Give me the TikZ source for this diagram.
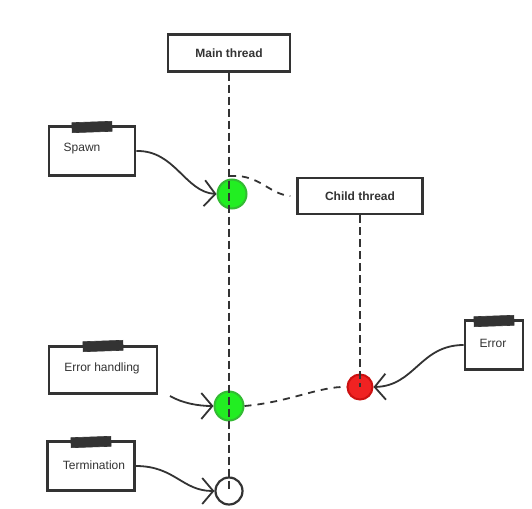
\documentclass[tikz,border=0pt]{standalone}
\usepackage{fontspec}
\setmainfont{Liberation Sans}
\usetikzlibrary{arrows.meta}
\definecolor{ink}{HTML}{333333}
\definecolor{gfill}{HTML}{22EE22}
\definecolor{gline}{HTML}{33BB33}
\definecolor{rfill}{HTML}{F02222}
\definecolor{rline}{HTML}{CC1111}
\tikzset{
  threadbox/.style={draw=ink, line width=2.4pt, fill=white, font=\bfseries\fontsize{12}{14}\selectfont, text=ink, inner sep=0pt},
  notebox/.style={draw=ink, line width=2.6pt, fill=white, font=\fontsize{12}{14}\selectfont, text=ink, inner sep=0pt},
  tapebar/.style={fill=ink, draw=ink, line width=0.6pt, minimum width=40pt, minimum height=10pt, inner sep=0pt},
  notetext/.style={font=\fontsize{12}{14}\selectfont, text=ink, inner sep=0pt},
  life/.style={draw=ink, line width=1.8pt, dash pattern=on 8pt off 4pt},
  msg/.style={draw=ink, line width=1.8pt, dash pattern=on 7pt off 6pt},
  gdot/.style={circle, fill=gfill, draw=gline, line width=2pt, minimum size=29pt, inner sep=0pt},
  rdot/.style={circle, fill=rfill, draw=rline, line width=2pt, minimum size=25pt, inner sep=0pt},
  enddot/.style={circle, fill=white, draw=ink, line width=2.2pt, minimum size=27pt, inner sep=0pt},
  notearrow/.style={draw=ink, line width=1.8pt, -{Straight Barb[length=11pt,width=26pt,line width=1.8pt]}},
}
\begin{document}
\begin{tikzpicture}[x=1pt,y=-1pt]
\useasboundingbox (0,0) rectangle (532,508);
% thread boxes
\node[threadbox, minimum width=122pt, minimum height=37pt] (main) at (229,53) {Main thread};
\node[threadbox, minimum width=125pt, minimum height=36pt] (child) at (360,196) {Child thread};
% circles
\node[gdot] (spawn) at (232,194) {};
\node[gdot] (eh) at (229,406) {};
\node[rdot] (err) at (360,387) {};
\node[enddot] (term) at (229,491) {};
% lifelines
\draw[life] (main.south) -- (term.center);
\draw[life] (child.south) -- (err.center);
% messages
\coordinate (sp0) at (229,176);
\draw[msg] (sp0) -- (238,176) .. controls (262,178) and (270,194) .. ([xshift=-6pt]child.west);
\draw[msg] (eh.east) .. controls (290,402) and (320,386) .. (err.west);
% notes
\node[notebox, minimum width=86pt, minimum height=49pt] (nspawn) at (92,151) {};
\node[notetext] (lspawn) at (82,149) {Spawn};
\node[tapebar, rotate=2] (tspawn) at (92,127) {};
\node[notebox, minimum width=108pt, minimum height=47pt] (neh) at (103,370) {};
\node[notetext] (leh) at (102,368) {Error handling};
\node[tapebar, rotate=2] (teh) at (103,346) {};
\node[notebox, minimum width=58pt, minimum height=49pt] (nerr) at (494,345) {};
\node[notetext] (lerr) at (493,343) {Error};
\node[tapebar, rotate=2] (terr) at (494,321) {};
\node[notebox, minimum width=87pt, minimum height=49pt] (nterm) at (91,466) {};
\node[notetext] (lterm) at (94,465) {Termination};
\node[tapebar, rotate=2] (tterm) at (91,442) {};
% note arrows
\draw[notearrow] (nspawn.east) .. controls (175,150) and (185,192) .. (spawn.west);
\coordinate (eh0) at (170,396);
\draw[notearrow] (eh0) .. controls (182,403) and (198,406) .. (eh.west);
\draw[notearrow] (nerr.west) .. controls (420,345) and (415,386) .. (err.east);
\draw[notearrow] (nterm.east) .. controls (175,466) and (182,491) .. (term.west);
\end{tikzpicture}
\end{document}
